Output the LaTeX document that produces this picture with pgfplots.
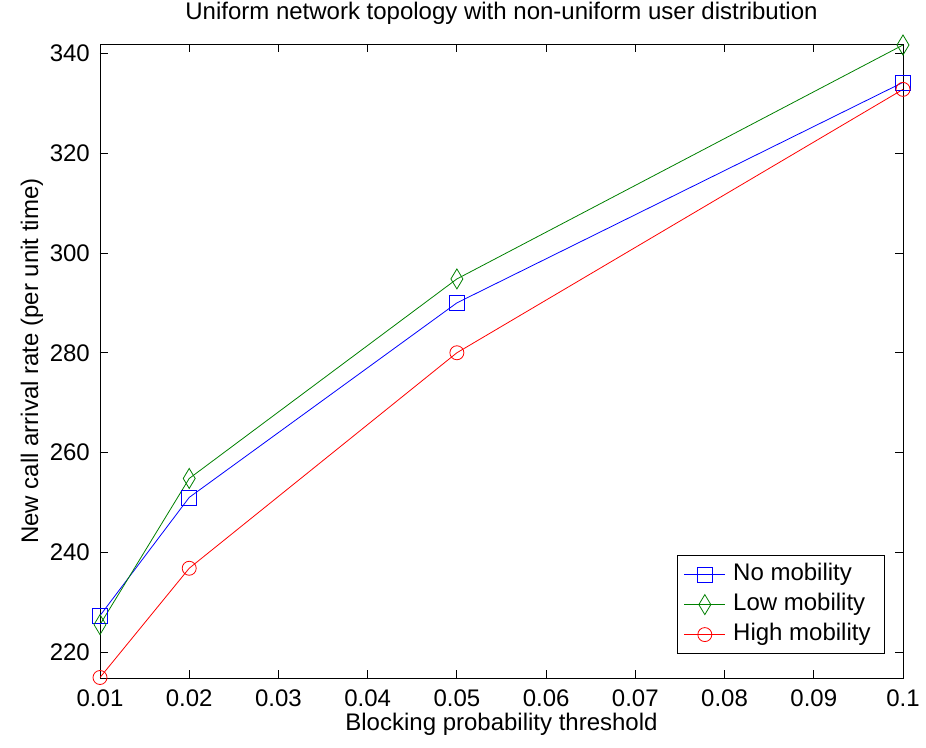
\documentclass[border=0pt]{standalone}
\usepackage{fontspec}
\setmainfont{Liberation Sans}
\usepackage{pgfplots}
\pgfplotsset{compat=1.18}
\definecolor{mblue}{rgb}{0,0,1}
\definecolor{mgreen}{rgb}{0,0.5,0}
\definecolor{mred}{rgb}{1,0,0}
\begin{document}
\begin{tikzpicture}
\useasboundingbox (-100pt,-69pt) rectangle (826pt,678pt);
\begin{axis}[
  at={(0pt,0pt)}, anchor=south west,
  scale only axis, width=803pt, height=633.5pt,
  xmin=0.01, xmax=0.1, ymin=214.8, ymax=341.8,
  xtick={0.01,0.02,...,0.1},
  xticklabels={0.01,0.02,0.03,0.04,0.05,0.06,0.07,0.08,0.09,0.1},
  ytick={220,240,...,340},
  tick align=inside, major tick length=8pt,
  tick style={black, line width=0.8pt},
  axis line style={line width=0.9pt},
  /pgf/number format/assume math mode=true,
  tick label style={font=\fontsize{24}{28}\selectfont, inner sep=0pt},
  xticklabel style={anchor=north, yshift=-12pt},
  yticklabel style={anchor=east, xshift=-10pt},
  title={Uniform network topology with non-uniform user distribution},
  title style={font=\fontsize{24}{28}\selectfont, at={(axis description cs:0.5,1)}, anchor=base, yshift=19pt, inner sep=0pt},
  xlabel={Blocking probability threshold},
  ylabel={New call arrival rate (per unit time)},
  xlabel style={font=\fontsize{24}{28}\selectfont, at={(axis description cs:0.5,0)}, anchor=north, yshift=-35pt, inner sep=0pt},
  ylabel style={font=\fontsize{24}{28}\selectfont, at={(axis description cs:-0.0847,0.5)}, anchor=center, rotate=0, inner sep=0pt},
  legend style={at={(0.9776,0.0379)}, anchor=south east, draw=black, line width=0.8pt,
    font=\fontsize{24}{28}\selectfont, row sep=0pt, inner xsep=6.5pt, inner ysep=4pt,
    nodes={inner xsep=7.5pt, inner ysep=3.5pt, text height=17pt, text depth=6pt}},
  legend cell align=left,
  legend image code/.code={\draw[mark repeat=2,mark phase=2,#1] plot coordinates {(0pt,0pt) (20.5pt,0pt) (41pt,0pt)};},
  every axis plot/.append style={line width=0.8pt},
]
\addplot[mblue, mark=square, mark size=7.5pt, mark options={solid}] coordinates {
  (0.01,227.3) (0.02,251) (0.05,290) (0.1,334.2)};
\addlegendentry{No mobility}
\addplot[mgreen, mark=diamond, mark size=10pt, mark options={solid, xscale=0.8}] coordinates {
  (0.01,225.5) (0.02,254.8) (0.05,294.8) (0.1,341.7)};
\addlegendentry{Low mobility}
\addplot[mred, mark=o, mark size=7pt] coordinates {
  (0.01,214.9) (0.02,236.8) (0.05,280) (0.1,332.8)};
\addlegendentry{High mobility}
\end{axis}
\end{tikzpicture}
\end{document}
